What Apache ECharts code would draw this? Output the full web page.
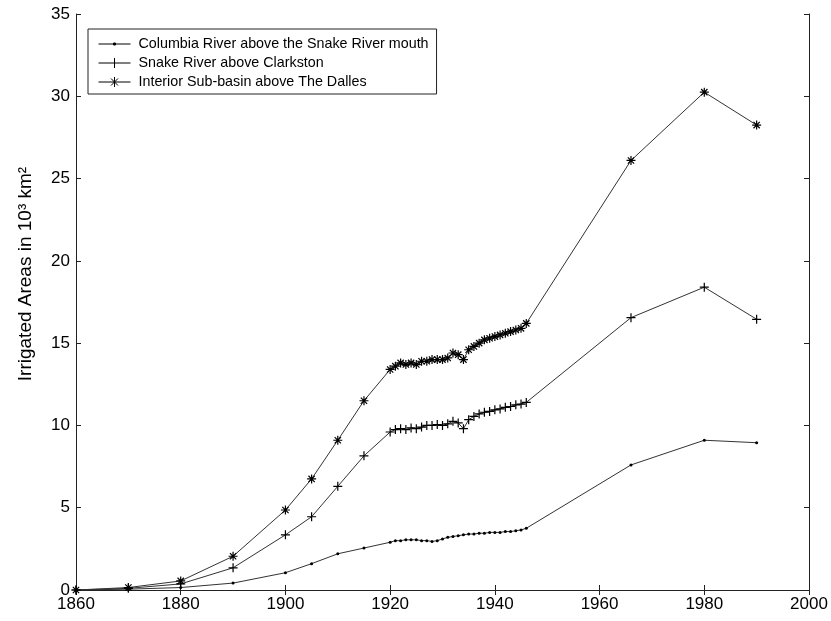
<!DOCTYPE html>
<html>
<head>
<meta charset="utf-8">
<script src="https://cdn.jsdelivr.net/npm/echarts@6/dist/echarts.min.js"></script>
<style>html,body{margin:0;padding:0;background:#fff}#c{width:831px;height:621px}</style>
</head>
<body>
<div id="c"></div>
<script>
const years = [1860,1870,1880,1890,1900,1905,1910,1915,
  1920,1921,1922,1923,1924,1925,1926,1927,1928,1929,1930,1931,1932,1933,1934,1935,1936,1937,1938,1939,1940,1941,1942,1943,1944,1945,1946,
  1966,1980,1990];
const columbia = [0,0.05,0.15,0.42,1.05,1.6,2.2,2.55,
  2.9,3.0,3.0,3.05,3.05,3.05,3.0,3.0,2.95,3.0,3.1,3.2,3.25,3.3,3.35,3.4,3.4,3.45,3.45,3.5,3.5,3.5,3.55,3.55,3.6,3.65,3.75,
  7.6,9.1,8.95];
const snake = [0,0.1,0.37,1.35,3.35,4.45,6.3,8.15,
  9.6,9.75,9.8,9.75,9.85,9.8,9.9,10.0,10.0,10.05,10.0,10.1,10.25,10.15,9.8,10.35,10.55,10.7,10.8,10.85,10.95,11.0,11.1,11.15,11.25,11.3,11.4,
  16.55,18.4,16.45];
const interior = [0,0.15,0.55,2.05,4.86,6.75,9.1,11.5,
  13.4,13.6,13.8,13.7,13.8,13.7,13.9,13.9,14.0,14.0,14.0,14.1,14.4,14.3,14.0,14.6,14.8,15.0,15.2,15.3,15.4,15.5,15.6,15.7,15.8,15.9,16.2,
  26.1,30.25,28.25];
const seriesNames = ['Columbia River above the Snake River mouth','Snake River above Clarkston','Interior Sub-basin above The Dalles'];
const yAxisTitle = 'Irrigated Areas in 10³ km²';
const xTicks = {min:1860, max:2000, interval:20};
const yTicks = {min:0, max:35, interval:5};

const pair = arr => years.map((y,i)=>[y,arr[i]]);
const plusPath = 'path://M5,0L5,10M0,5L10,5';
const starPath = 'path://M5,0L5,10M0,5L10,5M1.5,1.5L8.5,8.5M8.5,1.5L1.5,8.5';
const legIcons = [
  'path://M0,2L32,2M15,1L17,1L17,3L15,3Z',
  'path://M0,5L32,5M16,0L16,10',
  'path://M0,5L32,5M16,0L16,10M12.5,1.5L19.5,8.5M19.5,1.5L12.5,8.5'
];
const font = 'Liberation Sans, Arial, sans-serif';

const chart = echarts.init(document.getElementById('c'), null, {renderer:'canvas'});
const axCommon = {
  axisLine:{show:true,lineStyle:{color:'#222',width:1}},
  axisTick:{show:true,inside:true,length:5,lineStyle:{color:'#222'}},
  splitLine:{show:false}
};
function mkSeries(name, data, symbol, size, stroke) {
  return {
    name, type:'line', data:pair(data), symbol, symbolSize:size,
    showAllSymbol:true, animation:false,
    lineStyle:{color:'#333',width:1},
    itemStyle: stroke ? {color:'transparent',borderColor:'#000',borderWidth:1.2} : {color:'#000',borderColor:'#000',borderWidth:0},
    z: 3
  };
}
chart.setOption({
  animation:false,
  backgroundColor:'#fff',
  textStyle:{fontFamily:font},
  grid:{left:76,right:22,top:14,bottom:31,containLabel:false},
  xAxis:[
    Object.assign({type:'value',position:'bottom',min:xTicks.min,max:xTicks.max,interval:xTicks.interval,
      axisLabel:{color:'#000',fontSize:17,margin:6,fontFamily:font,formatter:v=>String(v)}},axCommon),
    Object.assign({type:'value',position:'top',min:xTicks.min,max:xTicks.max,interval:xTicks.interval,
      axisLabel:{show:false}},axCommon)
  ],
  yAxis:[
    Object.assign({type:'value',position:'left',min:yTicks.min,max:yTicks.max,interval:yTicks.interval,
      name:yAxisTitle,nameLocation:'middle',nameGap:41,nameRotate:90,
      nameTextStyle:{color:'#000',fontSize:19,fontFamily:font,padding:[0,0,0,56]},
      axisLabel:{color:'#000',fontSize:17,margin:6,fontFamily:font}},axCommon),
    Object.assign({type:'value',position:'right',min:yTicks.min,max:yTicks.max,interval:yTicks.interval,
      axisLabel:{show:false}},axCommon)
  ],
  legend:{
    show:true, orient:'vertical', left:88, top:29,
    data:seriesNames.map((n,i)=>({name:n,icon:legIcons[i],itemStyle:{color:'#000',borderColor:'#000',borderWidth:1}})),
    symbolKeepAspect:true,
    backgroundColor:'#fff',
    borderColor:'#222', borderWidth:1, borderRadius:0,
    padding:[8,8,5,10], itemGap:5, itemWidth:32, itemHeight:12,
    textStyle:{color:'#000',fontSize:14.3,fontFamily:font,padding:[0,0,0,3]}
  },
  series:[
    mkSeries(seriesNames[0], columbia, 'circle', 3, false),
    mkSeries(seriesNames[1], snake, plusPath, 9, true),
    mkSeries(seriesNames[2], interior, starPath, 9, true)
  ]
});
</script>
</body>
</html>
